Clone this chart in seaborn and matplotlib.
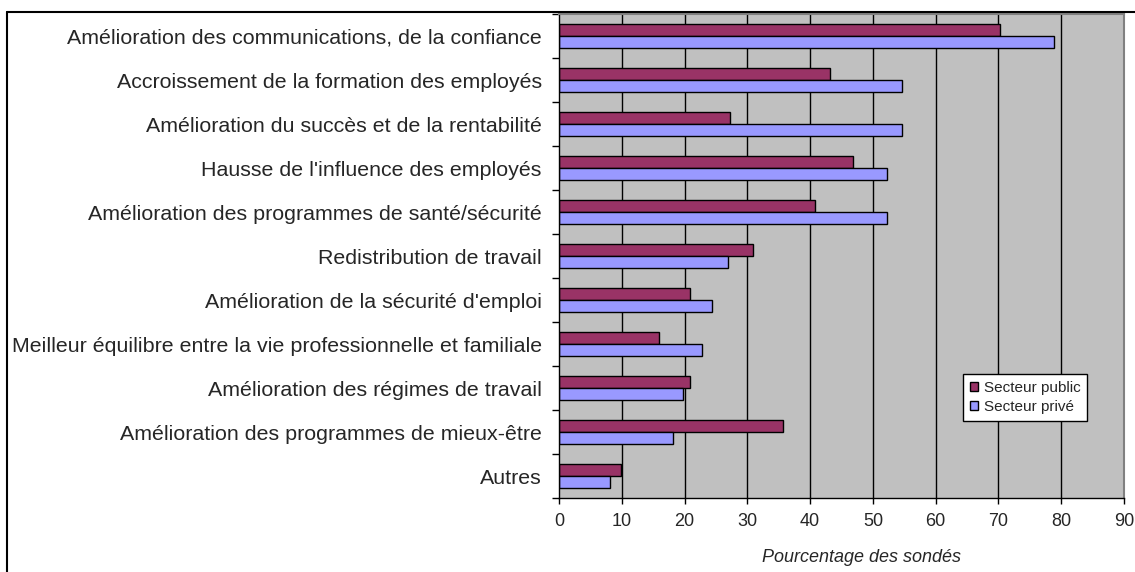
import numpy as np
import pandas as pd
import matplotlib
matplotlib.use("Agg")
import matplotlib.pyplot as plt
from matplotlib.lines import Line2D
import seaborn as sns

categories = [
    "Amélioration des communications, de la confiance",
    "Accroissement de la formation des employés",
    "Amélioration du succès et de la rentabilité",
    "Hausse de l'influence des employés",
    "Amélioration des programmes de santé/sécurité",
    "Redistribution de travail",
    "Amélioration de la sécurité d'emploi",
    "Meilleur équilibre entre la vie professionnelle et familiale",
    "Amélioration des régimes de travail",
    "Amélioration des programmes de mieux-être",
    "Autres",
]
public = [70.3, 43.1, 27.2, 46.8, 40.8, 30.9, 20.9, 15.9, 20.9, 35.7, 9.8]
private = [78.8, 54.7, 54.7, 52.3, 52.3, 26.9, 24.3, 22.7, 19.8, 18.2, 8.1]
series = ["Secteur public", "Secteur privé"]
colors = ["#993366", "#9999FF"]
x_ticks = list(range(0, 100, 10))
x_label = "Pourcentage des sondés"

n = len(categories)
df = pd.DataFrame({
    "categorie": categories * 2,
    "secteur": [series[0]] * n + [series[1]] * n,
    "valeur": public + private,
})

sns.set_style("white")
plt.rcParams["font.family"] = ["Liberation Sans", "DejaVu Sans"]

W, H = 1135, 572
fig = plt.figure(figsize=(W / 100, H / 100), dpi=100)
# plot area in pixels: x 559..1124, y 14..498
ax = fig.add_axes([559 / W, 1 - 498 / H, (1124 - 559) / W, (498 - 14) / H])
ax.set_facecolor("#C0C0C0")

sns.barplot(data=df, y="categorie", x="valeur", hue="secteur", order=categories,
            hue_order=series, palette=colors, orient="h", width=0.55,
            edgecolor="black", linewidth=1, saturation=1, ax=ax)

ax.set_xlim(x_ticks[0], x_ticks[-1])
ax.set_ylim(n - 0.5, -0.5)
for v in x_ticks[1:-1]:
    ax.axvline(v, color="black", lw=1, zorder=0.5)

ax.set_xticks(x_ticks)
ax.tick_params(axis="x", labelsize=13, length=4, width=1, color="black",
               direction="out", pad=7, bottom=True)
ax.tick_params(axis="y", which="major", labelsize=15.4, length=0, pad=12.5)
ax.set_yticks(np.arange(-0.5, n, 1.0), minor=True)
ax.tick_params(axis="y", which="minor", length=5, width=1, color="black",
               direction="out", left=True)
ax.set_xlabel("")
ax.set_ylabel("")

for side in ["left", "bottom"]:
    ax.spines[side].set_color("black")
    ax.spines[side].set_linewidth(1)
for side in ["right", "top"]:
    ax.spines[side].set_color("#808080")
    ax.spines[side].set_linewidth(1.5)

fig.text(861 / W, 1 - 558 / H, x_label, style="italic", fontsize=13,
         ha="center", va="center")

handles, labels = ax.get_legend_handles_labels()
leg = ax.legend(handles, labels, loc="upper left",
                bbox_to_anchor=(963 / W, 1 - 374 / H), bbox_transform=fig.transFigure,
                borderaxespad=0, fontsize=11, frameon=True, fancybox=False,
                edgecolor="black", framealpha=1, handlelength=0.5,
                handleheight=0.5, handletextpad=0.4, labelspacing=0.35,
                borderpad=0.45)
leg.get_frame().set_linewidth(1)

# outer frame of the chart
fig.add_artist(Line2D([7 / W, 7 / W], [1 - 12 / H, 0], transform=fig.transFigure,
                      color="black", lw=1.5))
fig.add_artist(Line2D([7 / W, 1], [1 - 12 / H, 1 - 12 / H], transform=fig.transFigure,
                      color="black", lw=1.5))

fig.savefig("out.png", dpi=100)
